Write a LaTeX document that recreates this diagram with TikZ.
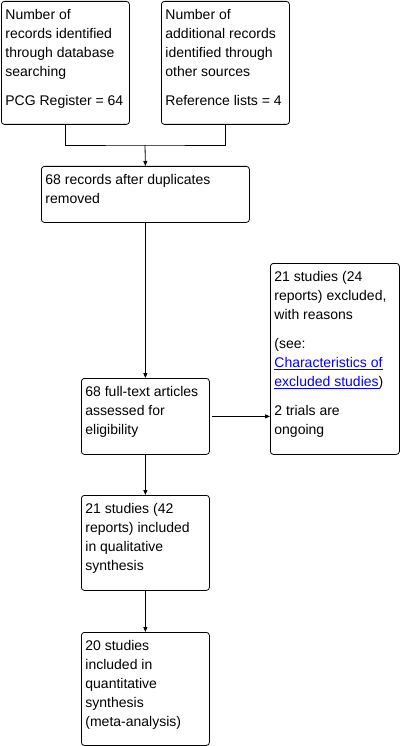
\documentclass[tikz,border=0pt]{standalone}
\usepackage{fontspec}
\setmainfont{Liberation Sans}
\usetikzlibrary{arrows.meta}
\definecolor{linkblue}{RGB}{0,0,255}

\begin{document}
\begin{tikzpicture}[
    x=1pt, y=-1pt,
    every node/.style={draw, rounded corners=3pt, line width=0.8pt, anchor=north west,
        inner xsep=4pt, inner ysep=5pt, font=\fontsize{14}{19}\selectfont},
    flow/.style={draw, line width=0.8pt, -{Triangle[length=5pt,width=4pt]}}
]
\useasboundingbox (0,0) rectangle (401,746);
\node (db) at (1,1) {\parbox[t][113pt][t]{120pt}{\strut Number of\\records identified\\through database\\searching\\[10pt]PCG Register = 64}};
\node (other) at (161,1) {\parbox[t][113pt][t]{120pt}{\strut Number of\\additional records\\identified through\\other sources\\[10pt]Reference lists = 4}};
\node (dup) at (41,166) {\parbox[t][46pt][t]{200pt}{\strut 68 records after duplicates\\removed}};
\node (excl) at (270,263) {\parbox[t][181pt][t]{121pt}{\strut 21 studies (24\\reports) excluded,\\with reasons\\[10pt](see:\\\textcolor{linkblue}{\underline{Characteristics of}}\\\textcolor{linkblue}{\underline{excluded studies}})\\[10pt]2 trials are\\ongoing}};
\node (full) at (81,378) {\parbox[t][66pt][t]{120pt}{\strut 68 full-text articles\\assessed for\\eligibility}};
\node (qual) at (81,495) {\parbox[t][85pt][t]{120pt}{\strut 21 studies (42\\reports) included\\in qualitative\\synthesis}};
\node (quant) at (81,632) {\parbox[t][103pt][t]{120pt}{\strut 20 studies\\included in\\quantitative\\synthesis\\(meta-analysis)}};
\coordinate (join) at (145,145);
\draw[line width=0.8pt] (db.south) |- (join) -| (other.south);
\draw[flow] (join) -- (dup.north);
\draw[flow] (dup.south) -- (full.north);
\draw[flow, shorten <=2pt] (full.east) -- (full.east -| excl.west);
\draw[flow] (full.south) -- (qual.north);
\draw[flow] (qual.south) -- (quant.north);
\end{tikzpicture}
\end{document}
